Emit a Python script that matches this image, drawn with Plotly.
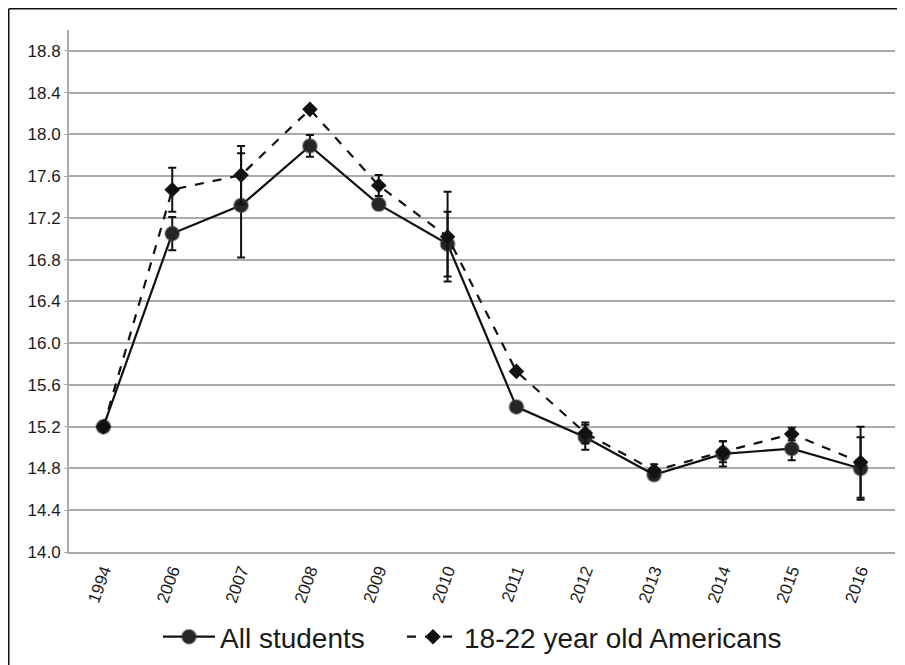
import plotly.graph_objects as go

years = ["1994", "2006", "2007", "2008", "2009", "2010", "2011", "2012", "2013", "2014", "2015", "2016"]

all_students = [15.20, 17.05, 17.32, 17.89, 17.33, 16.95, 15.39, 15.10, 14.74, 14.94, 14.99, 14.80]
all_err = [None, 0.16, 0.50, 0.105, 0.04, 0.31, None, 0.12, 0.03, 0.12, 0.11, 0.30]

americans = [15.20, 17.47, 17.61, 18.24, 17.51, 17.02, 15.73, 15.14, 14.78, 14.96, 15.13, 14.86]
am_err = [None, 0.21, 0.28, None, 0.10, 0.43, None, 0.10, 0.06, 0.10, 0.06, 0.34]

y_ticks = [14.0, 14.4, 14.8, 15.2, 15.6, 16.0, 16.4, 16.8, 17.2, 17.6, 18.0, 18.4, 18.8]

# page is offset by the 8px default body margin; work in page pixels
OFF = 8
L, T, R, B = 69 - OFF, 30 - OFF, 10, 113
W, H = 905 - OFF, 665 - OFF
PW, PH = W - L - R, H - T - B
fx = lambda px: (px - OFF - L) / PW
fy = lambda py: (H - B - (py - OFF)) / PH

fig = go.Figure()

fig.add_trace(go.Scatter(
    x=years, y=all_students, name="All students", mode="lines+markers",
    line=dict(color="#111111", width=2.2),
    marker=dict(symbol="circle", size=14, color="#262626",
                line=dict(color="rgba(60,60,60,0.45)", width=2)),
    error_y=dict(type="data", array=all_err, arrayminus=all_err, symmetric=False,
                 color="#111111", thickness=2, width=4),
    legend="legend",
))

fig.add_trace(go.Scatter(
    x=years, y=americans, name="18-22 year old Americans", mode="lines+markers",
    line=dict(color="#111111", width=2.2, dash="dash"),
    marker=dict(symbol="diamond", size=12, color="#111111"),
    error_y=dict(type="data", array=am_err, arrayminus=am_err, symmetric=False,
                 color="#111111", thickness=2, width=4),
    legend="legend2",
))

legfont = dict(size=28, family="Liberation Sans Narrow, Liberation Sans, Arial, sans-serif",
               color="#1a1a1a")

fig.update_layout(
    width=W, height=H,
    margin=dict(l=L, r=R, t=T, b=B, autoexpand=False),
    paper_bgcolor="white", plot_bgcolor="white",
    font=dict(family="Liberation Sans, Arial, sans-serif", color="#1a1a1a"),
    showlegend=True,
    legend=dict(orientation="h", x=fx(158), xanchor="left", y=fy(637), yanchor="middle",
                font=legfont, itemwidth=52, bgcolor="rgba(0,0,0,0)"),
    legend2=dict(orientation="h", x=fx(402), xanchor="left", y=fy(637), yanchor="middle",
                 font=legfont, itemwidth=52, bgcolor="rgba(0,0,0,0)"),
    shapes=[
        dict(type="line", xref="paper", yref="paper",
             x0=fx(8.75), x1=fx(8.75), y0=fy(700), y1=fy(8.75),
             line=dict(color="#111111", width=1.5)),
        dict(type="line", xref="paper", yref="paper",
             x0=fx(8.75), x1=fx(910), y0=fy(8.75), y1=fy(8.75),
             line=dict(color="#111111", width=1.5)),
    ],
)

fig.update_xaxes(
    type="category", range=[-0.5, 11.5], automargin=False,
    showline=True, linecolor="#ababab", linewidth=2,
    showgrid=False, ticks="", tickangle=-70,
    tickfont=dict(size=17),
)

fig.update_yaxes(
    range=[14.0, 19.0], tickvals=y_ticks, tickformat=".1f", automargin=False,
    showline=True, linecolor="#ababab", linewidth=2,
    showgrid=True, gridcolor="#ababab", gridwidth=1.5,
    ticks="outside", ticklen=3, tickcolor="#ababab",
    tickfont=dict(size=17), zeroline=False,
)

fig.write_html("out.html")
